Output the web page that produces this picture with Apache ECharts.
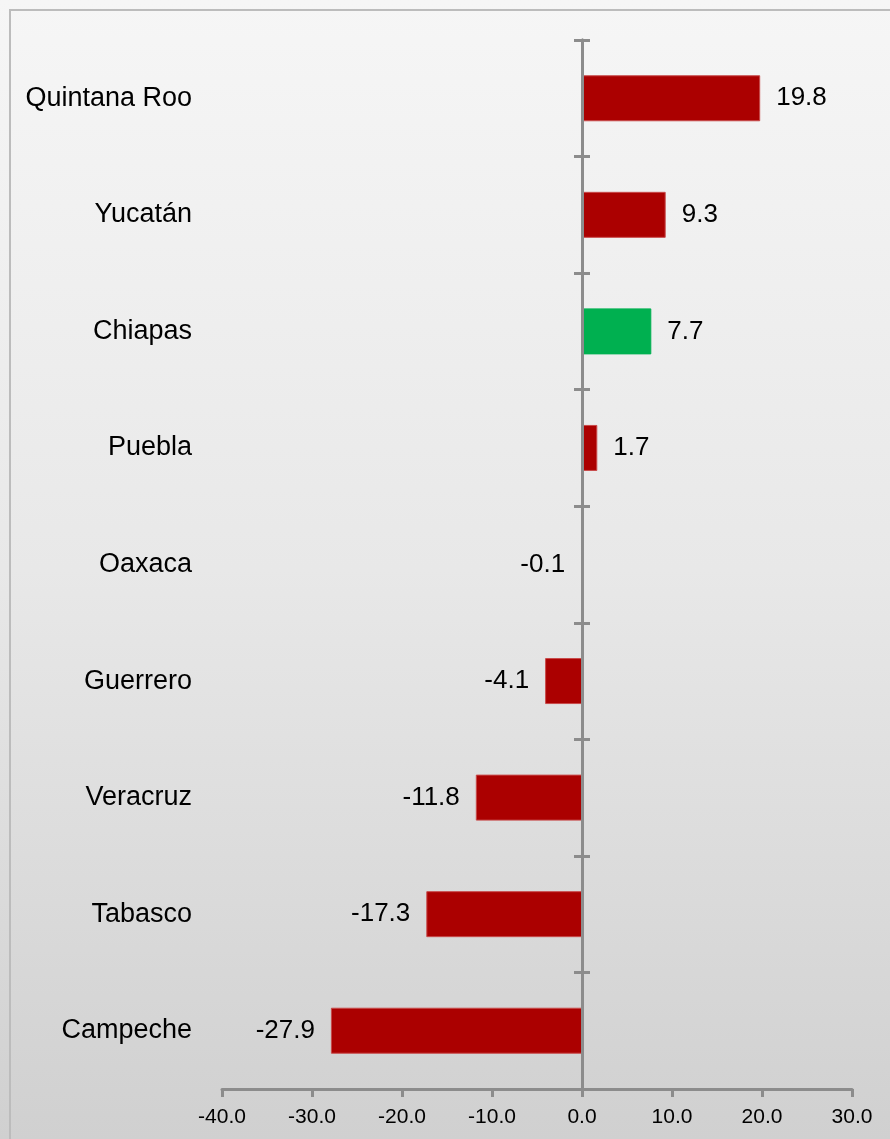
<!DOCTYPE html>
<html>
<head>
<meta charset="utf-8">
<script src="https://cdn.jsdelivr.net/npm/echarts@6/dist/echarts.min.js"></script>
<style>
  html, body { margin: 0; padding: 0; }
  #chart { width: 890px; height: 1139px; }
</style>
</head>
<body>
<div id="chart"></div>
<script>
const categories = ['Quintana Roo', 'Yucatán', 'Chiapas', 'Puebla', 'Oaxaca', 'Guerrero', 'Veracruz', 'Tabasco', 'Campeche'];
const values = [19.8, 9.3, 7.7, 1.7, -0.1, -4.1, -11.8, -17.3, -27.9];
const highlighted = ['Chiapas'];
const xMin = -40, xMax = 30, xStep = 10;

const FONT = '"Liberation Sans", Arial, sans-serif';
const AXIS_GRAY = '#8c8c8c';
const RED = '#ab0000';
const GREEN = '#00b050';

const GRID = { left: 222, right: 38, top: 40, bottom: 50 };
const W = 890;
// distance (px) from the grid's left edge to the zero line, from the axis scale
const zeroOffset = (0 - xMin) / (xMax - xMin) * (W - GRID.left - GRID.right);

const chart = echarts.init(document.getElementById('chart'));

const barData = values.map((v, i) => ({
  value: v,
  itemStyle: {
    color: highlighted.includes(categories[i]) ? GREEN : RED,
    borderColor: highlighted.includes(categories[i]) ? GREEN : '#c84a4a',
    borderWidth: Math.abs(v) < 0.5 ? 0 : 1
  },
  label: { position: v < 0 ? 'left' : 'right' }
}));

const baseCat = {
  type: 'category',
  data: categories,
  inverse: true,
  position: 'left'
};

chart.setOption({
  backgroundColor: {
    type: 'linear', x: 0, y: 0, x2: 0, y2: 1,
    colorStops: [
      { offset: 0, color: '#f6f6f6' },
      { offset: 0.5, color: '#e8e8e8' },
      { offset: 1, color: '#d0d0d0' }
    ]
  },
  animation: false,
  graphic: [{
    type: 'rect',
    shape: { x: 10, y: 10, width: 900, height: 1160 },
    style: { fill: 'none', stroke: '#bcbcbc', lineWidth: 2 },
    silent: true
  }],
  grid: GRID,
  xAxis: {
    type: 'value',
    min: xMin,
    max: xMax,
    interval: xStep,
    splitLine: { show: false },
    axisLine: { show: true, onZero: false, lineStyle: { color: AXIS_GRAY, width: 3 } },
    axisTick: { show: true, length: 8, lineStyle: { color: AXIS_GRAY, width: 3 } },
    axisLabel: {
      formatter: v => v.toFixed(1),
      fontSize: 21,
      fontFamily: FONT,
      color: '#000',
      margin: 18
    }
  },
  yAxis: [
    Object.assign({}, baseCat, {
      axisLine: { show: false, onZero: false },
      axisTick: { show: false },
      axisLabel: { fontSize: 27, fontFamily: FONT, color: '#000', margin: 30, padding: [6, 0, 0, 0] }
    }),
    Object.assign({}, baseCat, {
      offset: -zeroOffset,
      z: 5,
      axisLine: { show: true, onZero: false, lineStyle: { color: AXIS_GRAY, width: 3 } },
      axisTick: { show: true, inside: false, length: 8, lineStyle: { color: AXIS_GRAY, width: 3 } },
      axisLabel: { show: false }
    }),
    Object.assign({}, baseCat, {
      offset: -zeroOffset,
      z: 5,
      axisLine: { show: true, onZero: false, lineStyle: { color: AXIS_GRAY, width: 3 } },
      axisTick: { show: true, inside: true, length: 8, lineStyle: { color: AXIS_GRAY, width: 3 } },
      axisLabel: { show: false }
    })
  ],
  series: [{
    type: 'bar',
    yAxisIndex: 0,
    barWidth: 46,
    data: barData,
    label: {
      show: true,
      distance: 16,
      fontSize: 26,
      fontFamily: FONT,
      color: '#000',
      padding: [5, 0, 0, 0],
      formatter: p => p.value.toFixed(1)
    }
  }]
});
</script>
</body>
</html>
